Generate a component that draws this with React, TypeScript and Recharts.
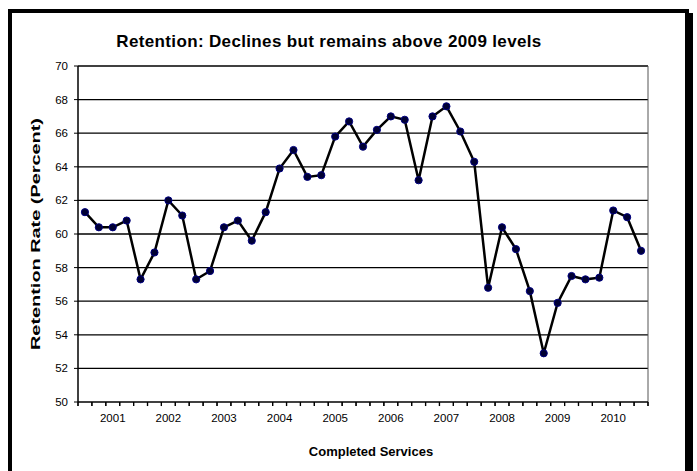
import { LineChart, Line, XAxis, YAxis, ReferenceLine } from "recharts";

// quarterly retention, 41 periods; year labels sit on every 4th period starting at index 2
const retention = [
  61.3, 60.4, 60.4, 60.8, 57.3, 58.9, 62.0, 61.1, 57.3, 57.8,
  60.4, 60.8, 59.6, 61.3, 63.9, 65.0, 63.4, 63.5, 65.8, 66.7,
  65.2, 66.2, 67.0, 66.8, 63.2, 67.0, 67.6, 66.1, 64.3, 56.8,
  60.4, 59.1, 56.6, 52.9, 55.9, 57.5, 57.3, 57.4, 61.4, 61.0,
  59.0,
];
const yearLabels = ["2001", "2002", "2003", "2004", "2005", "2006", "2007", "2008", "2009", "2010"];
const yearTicks = [2, 6, 10, 14, 18, 22, 26, 30, 34, 38];
const periodEdges = Array.from({ length: retention.length + 1 }, (_, k) => k - 0.5);
const yTicks = [50, 52, 54, 56, 58, 60, 62, 64, 66, 68, 70];

const chartData = retention.map((value, i) => ({ i, value }));
// tick marks on the period edges, year labels on the period centres
const xTicks = [...periodEdges, ...yearTicks].sort((a, b) => a - b);

const FONT = "'Liberation Sans', Arial, sans-serif";

function XTick({ x, y, payload }: any) {
  const v = payload.value;
  const yi = yearTicks.indexOf(v);
  if (yi >= 0) {
    return (
      <text x={x} y={y + 20} textAnchor="middle" fontFamily={FONT} fontSize={11.5} fill="#000">
        {yearLabels[yi]}
      </text>
    );
  }
  return <path d={`M${x},${y}V${y + 4}`} stroke="#000" strokeWidth={1.2} fill="none" />;
}

function YTitle({ viewBox }: any) {
  const cx = viewBox.x + 36;
  const cy = viewBox.y + viewBox.height / 2;
  return (
    <text
      x={cx}
      y={cy}
      transform={`rotate(-90, ${cx}, ${cy})`}
      textAnchor="middle"
      dominantBaseline="central"
      fontFamily={FONT}
      fontSize={12}
      fontWeight="bold"
      fill="#000"
      textLength={232}
      lengthAdjust="spacingAndGlyphs"
    >
      Retention Rate (Percent)
    </text>
  );
}

export default function App() {
  return (
    <div
      style={{
        position: "fixed",
        left: 0,
        top: 0,
        width: 697,
        height: 471,
        overflow: "hidden",
        background: "#fff",
        fontFamily: FONT,
      }}
    >
      {/* frame with drop shadow, runs off the bottom of the page */}
      <div
        style={{
          position: "absolute",
          left: 8,
          top: 9,
          width: 673,
          height: 480,
          border: "4px solid #000",
          boxShadow: "4px 4px 0 #000",
        }}
      />
      <div
        style={{
          position: "absolute",
          left: 0,
          width: 658,
          top: 32,
          textAlign: "center",
          fontSize: 17,
          letterSpacing: 0.35,
          fontWeight: "bold",
        }}
      >
        Retention: Declines but remains above 2009 levels
      </div>
      <div style={{ position: "absolute", left: 0, top: 0 }}>
        <LineChart
          width={697}
          height={471}
          data={chartData}
          margin={{ top: 66, right: 49, left: 0, bottom: 0 }}
        >
          <XAxis
            type="number"
            dataKey="i"
            domain={[-0.5, retention.length - 0.5]}
            ticks={xTicks}
            allowDataOverflow
            interval={0}
            tick={<XTick />}
            tickLine={false}
            tickSize={0}
            tickMargin={0}
            height={69}
            axisLine={{ stroke: "#000", strokeWidth: 1.5 }}
          />
          <YAxis
            domain={[50, 70]}
            ticks={yTicks}
            interval={0}
            width={78}
            tickSize={4}
            tickMargin={6}
            tickLine={{ stroke: "#000" }}
            axisLine={{ stroke: "#000", strokeWidth: 1.5 }}
            tick={{ fontSize: 11.5, fill: "#000", fontFamily: FONT }}
            label={<YTitle />}
          />
          {/* horizontal gridlines and the thin right-hand border */}
          {yTicks.slice(1).map((t) => (
            <ReferenceLine key={`g${t}`} y={t} stroke="#000" strokeWidth={1.3} />
          ))}
          <ReferenceLine x={retention.length - 0.5} stroke="#555" strokeWidth={1} />
          {/* Excel-style tick marks between the quarters */}
          {periodEdges.map((e) => (
            <ReferenceLine
              key={`t${e}`}
              segment={[
                { x: e, y: 50 },
                { x: e, y: 49.76 },
              ]}
              stroke="#000"
              strokeWidth={1.2}
              ifOverflow="visible"
            />
          ))}
          <Line
            dataKey="value"
            type="linear"
            stroke="#000"
            strokeWidth={2.5}
            dot={{ r: 3.6, fill: "#000033", stroke: "#000080", strokeWidth: 1 }}
            isAnimationActive={false}
          />
        </LineChart>
      </div>
      <div
        style={{
          position: "absolute",
          left: 0,
          width: 742,
          top: 444,
          textAlign: "center",
          fontSize: 13,
          fontWeight: "bold",
        }}
      >
        Completed Services
      </div>
    </div>
  );
}
